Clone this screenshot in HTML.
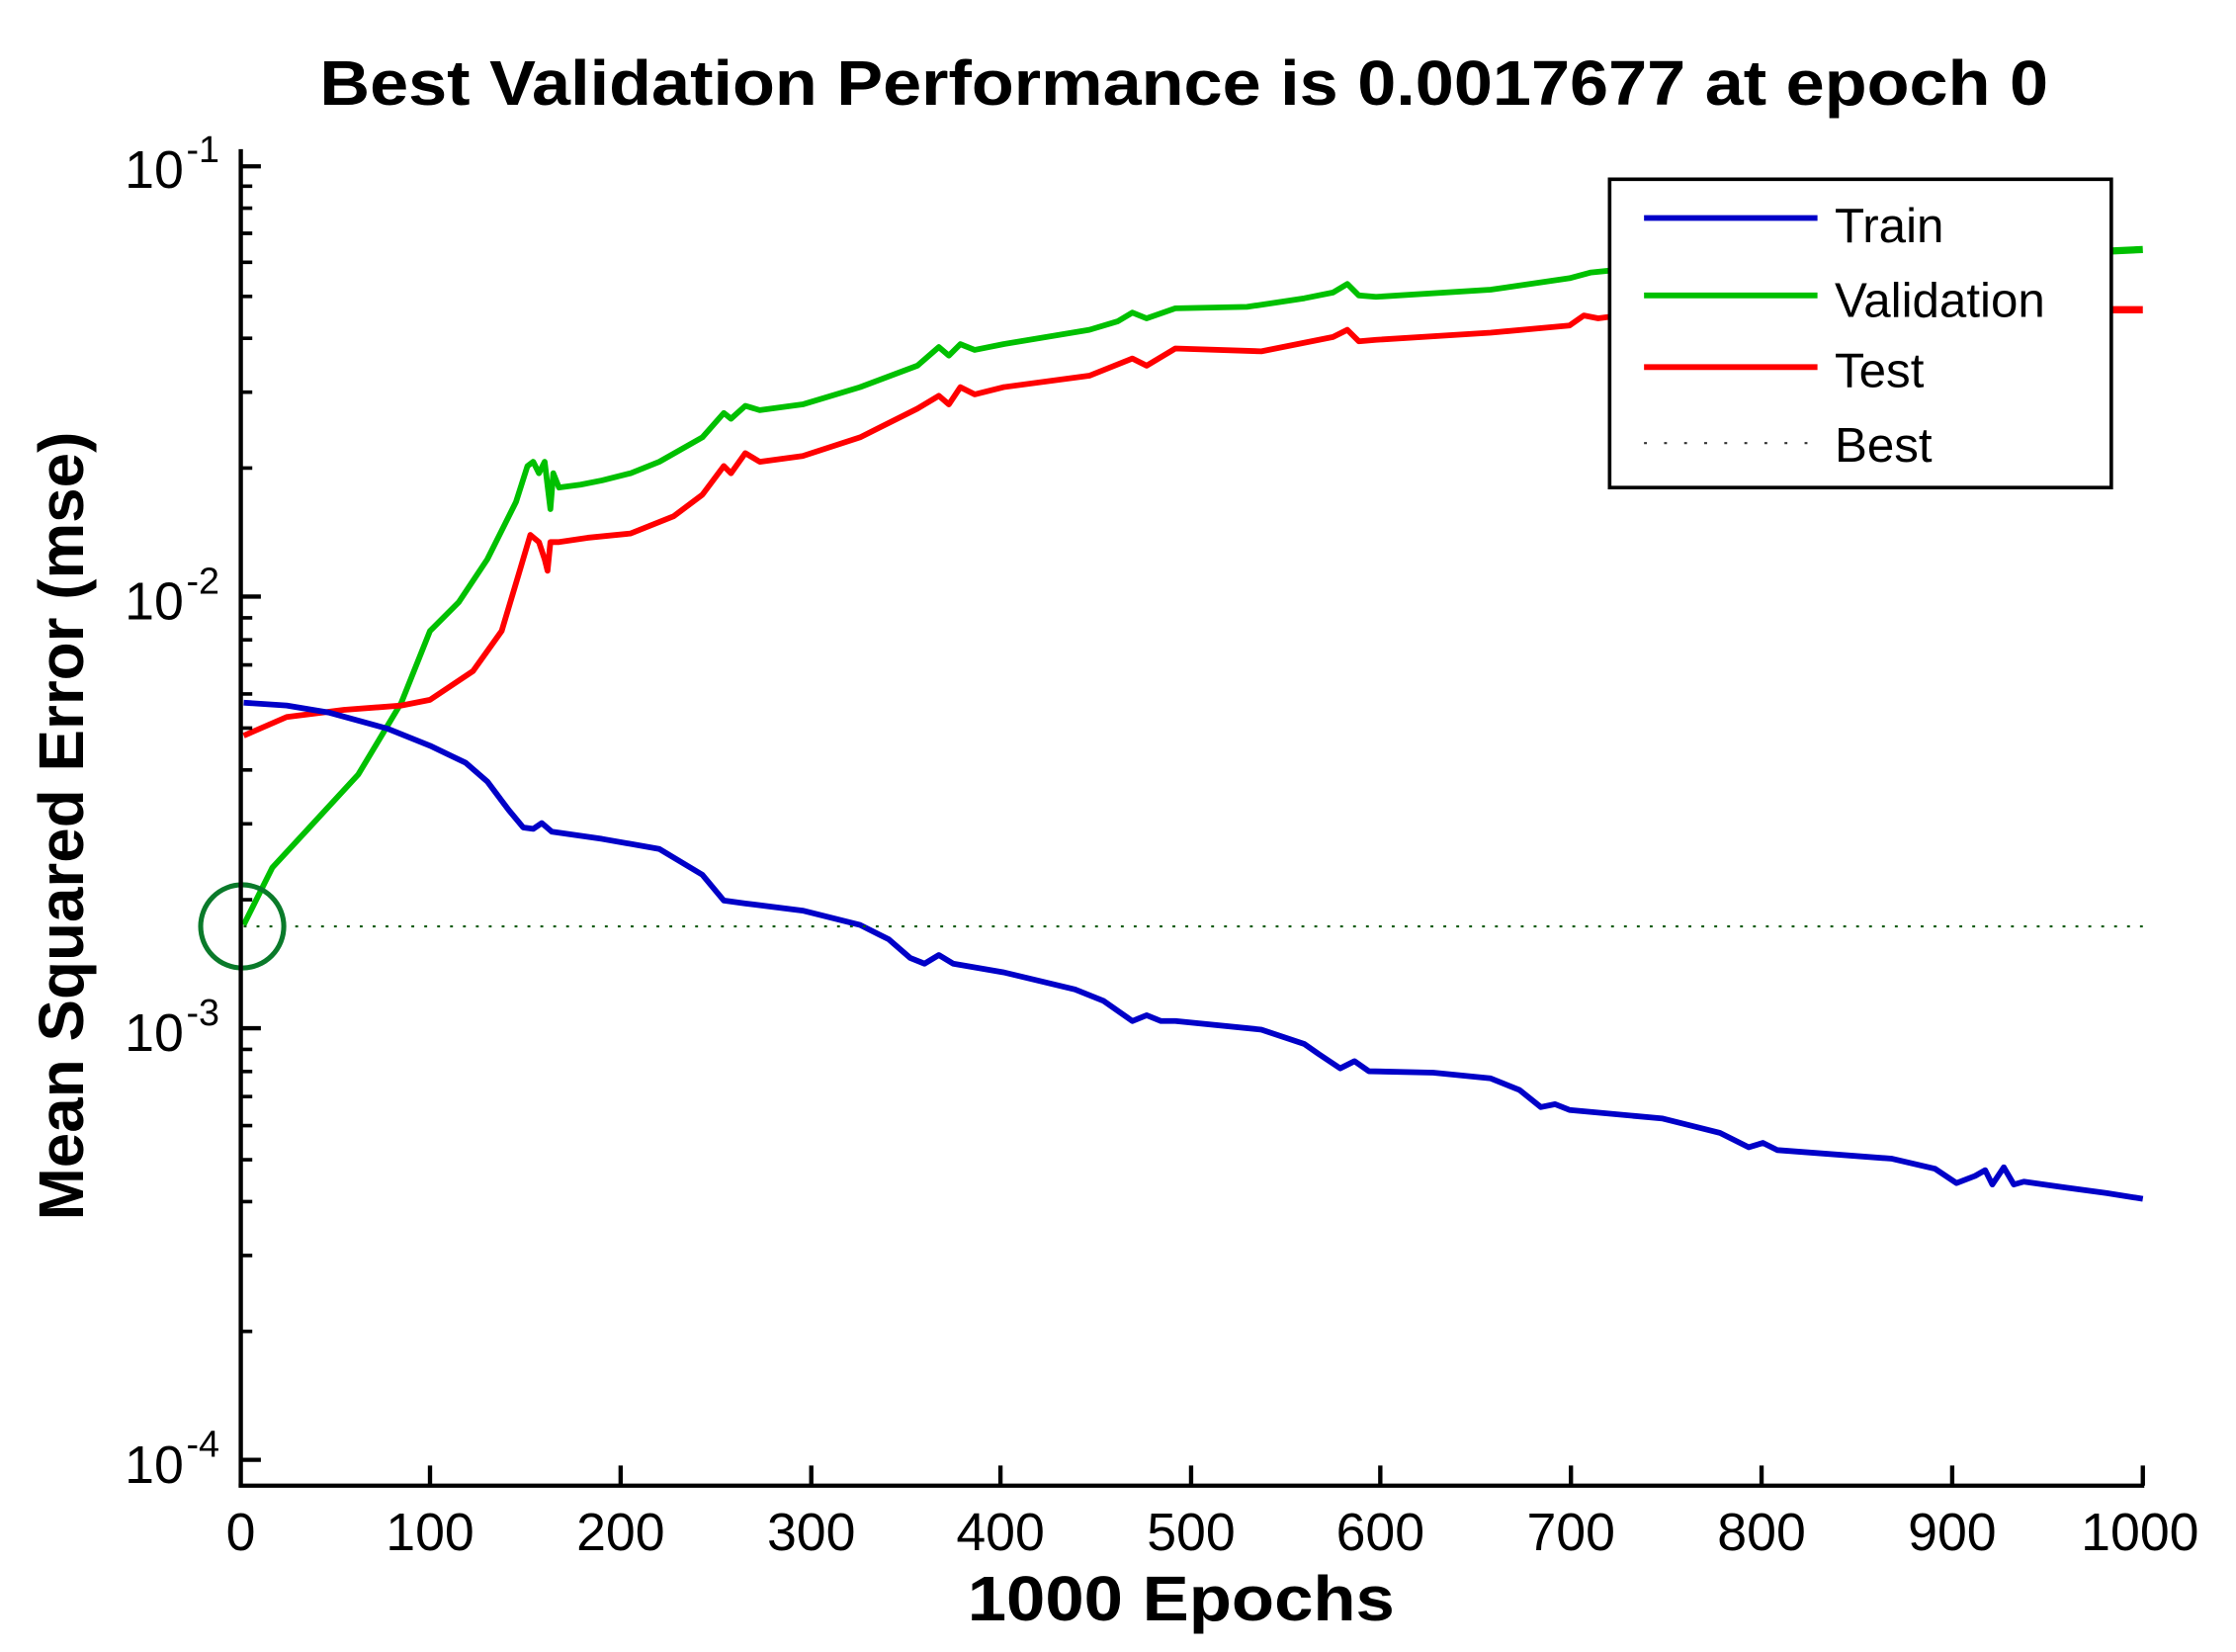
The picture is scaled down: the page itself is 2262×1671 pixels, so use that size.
<!DOCTYPE html>
<html><head><meta charset="utf-8"><style>html,body{margin:0;padding:0;background:#fff}svg{display:block}</style></head>
<body>
<svg width="2262" height="1671" viewBox="0 0 1560 1152" preserveAspectRatio="none" xmlns="http://www.w3.org/2000/svg" font-family="Liberation Sans, sans-serif">
<rect width="1560" height="1152" fill="#fff"/>
<text x="826" y="73" font-size="44" font-weight="bold" text-anchor="middle" textLength="1206" lengthAdjust="spacingAndGlyphs">Best Validation Performance is 0.0017677 at epoch 0</text>
<text x="824" y="1130" font-size="44" font-weight="bold" text-anchor="middle" textLength="298" lengthAdjust="spacingAndGlyphs">1000 Epochs</text>
<text transform="translate(58,576) rotate(-90)" font-size="44" font-weight="bold" text-anchor="middle" textLength="550" lengthAdjust="spacingAndGlyphs">Mean Squared Error  (mse)</text>

<g fill="none" stroke-width="4" stroke-linejoin="round">
<polyline stroke="#00c000" points="170,645 190,605 215,578 250,540 280,490 300,440 320,420 340,390 360,350 368,325 372,322 376,330 380,322 384,355 386,330 390,340 405,338 420,335 440,330 460,322 490,305 505,288 510,292 520,283 530,286 560,282 600,270 640,255 655,242 662,248 670,240 680,244 700,240 760,230 780,224 790,218 800,222 820,215 870,214 910,208 930,204 940,198 948,206 960,207 1040,202 1095,194 1110,190 1130,188"/>
<polyline stroke="#ff0000" points="170,513 200,500 240,495 280,492 300,488 330,468 350,440 362,400 370,373 376,378 380,390 382,398 384,378 390,378 410,375 440,372 470,360 490,345 505,325 510,330 520,316 530,322 560,318 600,305 640,285 655,276 662,282 670,270 680,275 700,270 760,262 790,250 800,255 820,243 880,245 930,235 940,230 948,238 960,237 1040,232 1095,227 1105,220 1115,222 1130,220"/>
<polyline stroke="#0000c8" points="170,490 200,492 230,497 270,508 300,520 325,532 340,545 355,565 365,577 372,578 378,574 385,580 420,585 460,592 490,610 505,628 520,630 560,635 600,645 620,655 635,668 645,672 655,666 665,672 700,678 750,690 770,698 780,705 790,712 800,708 810,712 820,712 880,718 910,728 920,735 935,745 945,740 955,747 1000,748 1040,752 1060,760 1075,772 1085,770 1095,774 1160,780 1200,790 1220,800 1230,797 1240,802 1320,808 1350,815 1365,825 1378,820 1385,816 1390,826 1398,814 1405,826 1412,824 1440,828 1470,832 1495,836"/>
<line x1="1473" y1="175" x2="1495" y2="174" stroke="#00c000" stroke-width="5"/>
<line x1="1473" y1="216" x2="1495" y2="216" stroke="#ff0000" stroke-width="5"/>
</g>
<line x1="170" y1="646" x2="1495" y2="646" stroke="#0a5a0a" stroke-width="1.5" stroke-dasharray="2,7"/>
<circle cx="169" cy="646" r="29" fill="none" stroke="#0a7a2a" stroke-width="3.5"/>

<g stroke="#000" stroke-width="3" fill="none">
<line x1="168" y1="104" x2="168" y2="1037"/>
<line x1="166.5" y1="1036" x2="1496" y2="1036"/>
<path d="M168,116h14M168,416h14M168,717h14M168,1018h14"/>
<path stroke-width="2.5" d="M168,129.8h8M168,145.2h8M168,162.7h8M168,182.9h8M168,206.7h8M168,235.9h8M168,273.5h8M168,326.4h8
M168,430.8h8M168,446.2h8M168,463.7h8M168,483.9h8M168,507.7h8M168,536.9h8M168,574.5h8M168,627.4h8
M168,731.8h8M168,747.2h8M168,764.7h8M168,784.9h8M168,808.7h8M168,837.9h8M168,875.5h8M168,928.4h8"/>
<path d="M300,1036v-14M433,1036v-14M566,1036v-14M698,1036v-14M831,1036v-14M963,1036v-14M1096,1036v-14M1229,1036v-14M1362,1036v-14M1495,1036v-14"/>
</g>
<g font-size="37" text-anchor="middle" fill="#000">
<text x="168" y="1081">0</text><text x="300" y="1081">100</text><text x="433" y="1081">200</text><text x="566" y="1081">300</text><text x="698" y="1081">400</text><text x="831" y="1081">500</text><text x="963" y="1081">600</text><text x="1096" y="1081">700</text><text x="1229" y="1081">800</text><text x="1362" y="1081">900</text><text x="1493" y="1081">1000</text>
</g>
<g font-size="37" fill="#000">
<text x="87" y="131">10</text><text x="130" y="113" font-size="26">-1</text>
<text x="87" y="432">10</text><text x="130" y="414" font-size="26">-2</text>
<text x="87" y="733">10</text><text x="130" y="715" font-size="26">-3</text>
<text x="87" y="1034">10</text><text x="130" y="1016" font-size="26">-4</text>
</g>

<rect x="1123" y="125" width="350" height="215" fill="#fff" stroke="#000" stroke-width="2.5"/>
<g stroke-width="4">
<line x1="1147" y1="152" x2="1268" y2="152" stroke="#0000c8"/>
<line x1="1147" y1="206" x2="1268" y2="206" stroke="#00c000"/>
<line x1="1147" y1="256" x2="1268" y2="256" stroke="#ff0000"/>
</g>
<line x1="1147" y1="309" x2="1268" y2="309" stroke="#333" stroke-width="1.5" stroke-dasharray="2,12"/>
<g font-size="34" fill="#000">
<text x="1280" y="169">Train</text>
<text x="1280" y="221">Validation</text>
<text x="1280" y="270">Test</text>
<text x="1280" y="322">Best</text>
</g>
</svg>
</body></html>
